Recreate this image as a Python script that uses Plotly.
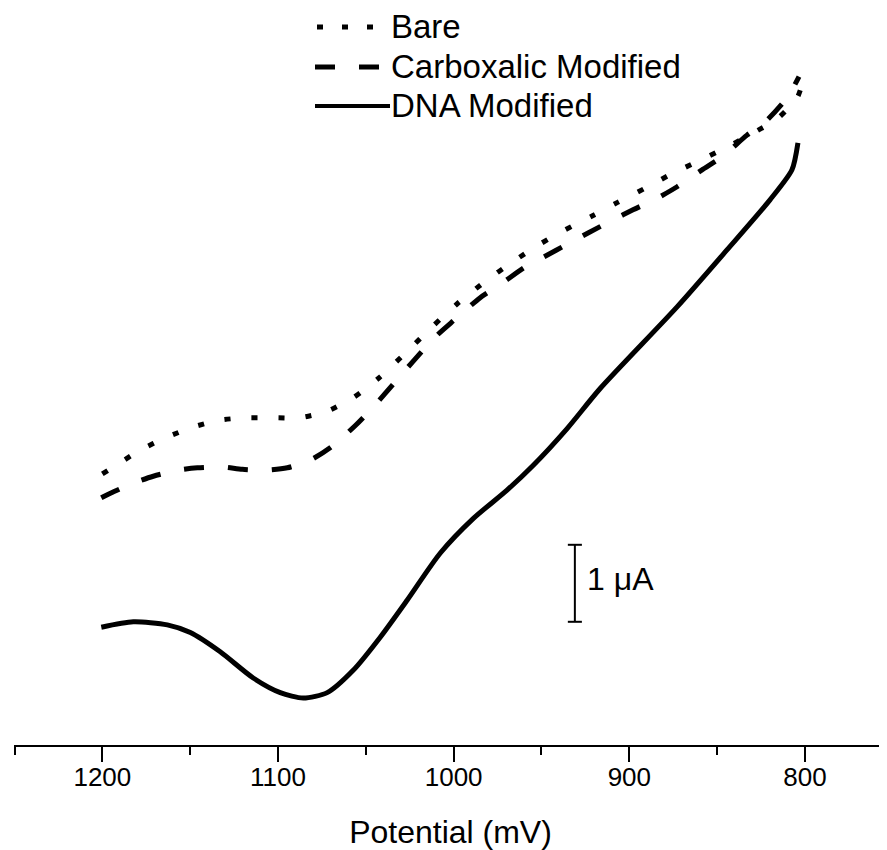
import plotly.graph_objects as go

# ---------------- data (Potential in mV, current in µA, arbitrary offset) ----------------
bare_x = [1200.0, 1193.7, 1178.4, 1163.0, 1148.2, 1132.9, 1117.5, 1102.7, 1087.9, 1072.6,
          1057.2, 1042.4, 1027.0, 1012.3, 997.5, 981.5, 966.7, 952.0, 936.6, 921.2,
          906.4, 891.1, 875.7, 860.9, 845.6, 830.2, 815.4, 804.6, 802.3]
bare_y = [3.52, 3.61, 3.83, 4.00, 4.13, 4.22, 4.25, 4.25, 4.25, 4.33,
          4.51, 4.77, 5.10, 5.43, 5.74, 6.03, 6.27, 6.49, 6.69, 6.87,
          7.05, 7.23, 7.42, 7.58, 7.75, 7.94, 8.14, 8.40, 8.53]

carb_x = [1200.6, 1195.4, 1182.4, 1171.0, 1156.8, 1145.9, 1131.7, 1120.3, 1106.7, 1094.7,
          1081.6, 1069.7, 1055.5, 1045.8, 1032.7, 1023.6, 1010.0, 999.1, 984.9, 974.1,
          959.9, 948.5, 934.8, 923.5, 909.2, 897.9, 884.2, 872.8, 858.6, 847.2,
          833.0, 822.7, 809.7, 803.4]
carb_y = [3.21, 3.27, 3.40, 3.49, 3.57, 3.60, 3.61, 3.58, 3.57, 3.60,
          3.70, 3.87, 4.16, 4.39, 4.73, 4.97, 5.31, 5.53, 5.81, 5.97,
          6.20, 6.34, 6.51, 6.65, 6.82, 6.95, 7.10, 7.25, 7.47, 7.64,
          7.92, 8.09, 8.42, 8.68]

dna_x = [1200.6, 1182.4, 1163.0, 1149.9, 1132.9, 1114.1, 1098.7, 1085.6, 1072.0, 1057.2,
         1041.8, 1026.5, 1007.7, 988.9, 969.6, 954.8, 935.4, 916.6, 872.8, 844.4,
         819.9, 807.4, 804.0]
dna_y = [1.53, 1.60, 1.56, 1.46, 1.21, 0.87, 0.68, 0.61, 0.68, 0.97,
         1.40, 1.88, 2.49, 2.94, 3.31, 3.63, 4.11, 4.63, 5.69, 6.43,
         7.08, 7.47, 7.82]

series_names = ["Bare", "Carboxalic Modified", "DNA Modified"]
x_ticks = [1200, 1100, 1000, 900, 800]
x_minor = [1250, 1150, 1050, 950, 850]
x_title = "Potential (mV)"
scale_label = "1 \u03bcA"
scale_value = 1.0          # µA represented by the scale bar
scale_pos_x = 931          # mV
scale_pos_y0 = 1.6         # µA

FONT = "Liberation Sans, Arial, sans-serif"
OFF = 8                     # page body margin
W, H = 887 - OFF, 850 - OFF
L, R, T, B = 6, 0, 0, 105
plot_w = W - L - R
plot_h = H - T - B


def px_x(p):   # page pixel -> paper fraction
    return (p - OFF - L) / plot_w


def px_y(p):
    return (H - B - (p - OFF)) / plot_h


fig = go.Figure()
styles = ["6px,21px", "20px,24px", "solid"]
for name, xs, ys, d in zip(series_names, [bare_x, carb_x, dna_x], [bare_y, carb_y, dna_y], styles):
    fig.add_trace(go.Scatter(x=xs, y=ys, mode="lines", name=name, showlegend=False,
                             line=dict(color="black", width=5, dash=d, shape="spline",
                                       smoothing=0.7)))

# manual legend (long line samples)
leg_rows = [27, 67, 106]
leg_dash = ["6px,19px", "20px,24px", "solid"]
leg_x0 = [317, 315, 315]
leg_x1 = [373, 380, 390]
for name, yy, d, a, b in zip(series_names, leg_rows, leg_dash, leg_x0, leg_x1):
    fig.add_shape(type="line", xref="paper", yref="paper",
                  x0=px_x(a), x1=px_x(b), y0=px_y(yy), y1=px_y(yy),
                  line=dict(color="black", width=5 if d != "solid" else 4, dash=d))
    fig.add_annotation(xref="paper", yref="paper", x=px_x(390), y=px_y(yy),
                       text=name, showarrow=False, xanchor="left", yanchor="middle",
                       borderpad=0,
                       font=dict(family=FONT, size=33, color="black"))

# scale bar
cap = 4  # mV half width of caps
fig.add_shape(type="line", xref="x", yref="y", x0=scale_pos_x, x1=scale_pos_x,
              y0=scale_pos_y0, y1=scale_pos_y0 + scale_value, line=dict(color="black", width=2))
for yv in [scale_pos_y0, scale_pos_y0 + scale_value]:
    fig.add_shape(type="line", xref="x", yref="y", x0=scale_pos_x + cap, x1=scale_pos_x - cap,
                  y0=yv, y1=yv, line=dict(color="black", width=2))
fig.add_annotation(xref="x", yref="y", x=scale_pos_x - 6, y=scale_pos_y0 + scale_value / 2 + 0.05,
                   text=scale_label, showarrow=False, xanchor="left", yanchor="middle",
                   font=dict(family=FONT, size=32, color="black"))

fig.update_layout(
    width=W, height=H,
    margin=dict(l=L, r=R, t=T, b=B),
    paper_bgcolor="white", plot_bgcolor="white",
    showlegend=False,
    font=dict(family=FONT, color="black"),
)
fig.update_xaxes(
    range=[1250.3, 753.3],
    tickvals=x_ticks, ticktext=[str(v) for v in x_ticks],
    ticks="outside", ticklen=15, tickwidth=2, tickcolor="black",
    ticklabelstandoff=-7,
    minor=dict(tickvals=x_minor, ticks="outside", ticklen=8,
               tickwidth=2, tickcolor="black", showgrid=False),
    showline=True, linecolor="black", linewidth=2,
    showgrid=False, zeroline=False,
    tickfont=dict(family=FONT, size=26, color="black"),
    title=dict(text=x_title, font=dict(family=FONT, size=32, color="black"), standoff=30),
)
fig.update_yaxes(range=[0, plot_h / 77.0], visible=False, showgrid=False, zeroline=False)

fig.write_html("out.html")
